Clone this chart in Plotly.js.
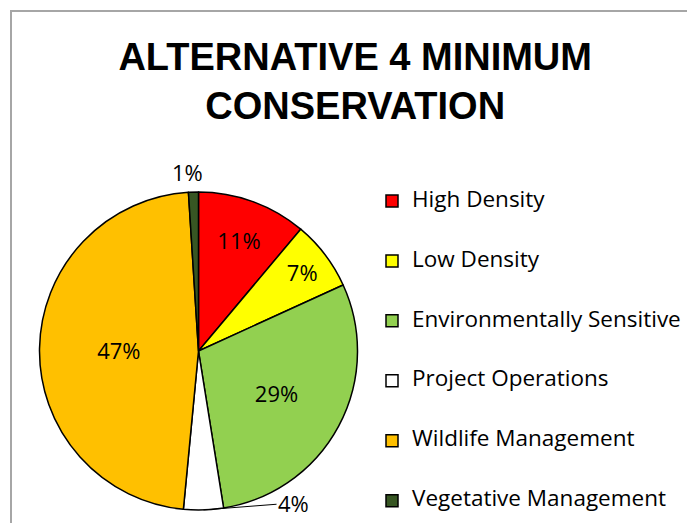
<!DOCTYPE html>
<html>
<head>
<meta charset="utf-8">
<script src="https://cdn.plot.ly/plotly-3.0.1.min.js"></script>
<style>
  html, body { margin: 0; padding: 0; background: #ffffff; overflow: hidden; }
  #wrap { position: relative; width: 687px; height: 523px; overflow: hidden; }
  #chart { position: absolute; left: 0; top: 0; }
  #frame { position: absolute; left: 10px; top: 10px; right: -5px; bottom: -5px;
           border-top: 2px solid #a6a6a6; border-left: 2px solid #a6a6a6; pointer-events: none; }
</style>
</head>
<body>
<div id="wrap">
  <div id="chart"></div>
  <div id="frame"></div>
</div>
<script>
// ---- data ----
const categories = ["High Density", "Low Density", "Environmentally Sensitive",
                    "Project Operations", "Wildlife Management", "Vegetative Management"];
const shares = [11, 7, 29, 4, 47, 1];
const sliceColors = ["#FF0000", "#FFFF00", "#92D050", "#FFFFFF", "#FFC000", "#375623"];
const labelPlacement = ["inside", "inside", "inside", "none", "inside", "none"];
const chartTitle = "ALTERNATIVE 4 MINIMUM<br>CONSERVATION";

// legend labels: padded with blank lines so each entry is 60px tall
const legendLabels = categories.map(c => " <br><span style=\"font-size:22.5px\">" + c + "</span><br> ");

const W = 687, H = 523;
const cx = 198.5, cy = 351, r = 159;
const labelFont = { family: "Open Sans, sans-serif", size: 22, color: "#000000" };

const trace = {
  type: "pie",
  labels: legendLabels,
  values: shares,
  sort: false,
  direction: "clockwise",
  rotation: 0,
  marker: { colors: sliceColors, line: { color: "#000000", width: 1.5 } },
  texttemplate: "%{percent:.0%}",
  textposition: labelPlacement,
  insidetextorientation: "horizontal",
  textfont: labelFont,
  hoverinfo: "none",
  domain: { x: [(cx - r) / W, (cx + r) / W], y: [(H - cy - r) / H, (H - cy + r) / H] }
};

// outside labels for the thin slices, placed at the middle of each slice's arc
const total = shares.reduce((a, b) => a + b, 0);
function arcPoint(i) {
  let before = 0;
  for (let k = 0; k < i; k++) before += shares[k];
  const mid = (before + shares[i] / 2) / total * 2 * Math.PI;
  return { x: (cx + r * Math.sin(mid)) / W, y: 1 - (cy - r * Math.cos(mid)) / H };
}
function pctText(i) { return Math.round(shares[i] / total * 100) + "%"; }

const pVeg = arcPoint(5), pProj = arcPoint(3);
const annotations = [
  { xref: "paper", yref: "paper", x: pVeg.x, y: pVeg.y, text: pctText(5),
    showarrow: false, xanchor: "center", yanchor: "bottom", xshift: -6, yshift: 3, font: labelFont },
  { xref: "paper", yref: "paper", x: pProj.x, y: pProj.y, text: pctText(3),
    showarrow: true, arrowhead: 0, arrowwidth: 1, arrowcolor: "#000000",
    ax: 90, ay: -7, font: labelFont }
];

const layout = {
  width: W, height: H,
  margin: { l: 0, r: 0, t: 0, b: 0, autoexpand: false },
  paper_bgcolor: "#ffffff",
  title: {
    text: chartTitle,
    font: { family: "Liberation Sans Narrow, Arial Narrow, sans-serif", size: 38, color: "#000000", weight: 700 },
    x: 0.517, xanchor: "center",
    y: 1 - 70 / H, yanchor: "top"
  },
  annotations: annotations,
  showlegend: true,
  legend: {
    x: 372 / W, xanchor: "left",
    y: 1 - 166 / H, yanchor: "top",
    font: { family: "Open Sans, sans-serif", size: 14.6, color: "#000000" },
    bgcolor: "rgba(0,0,0,0)",
    traceorder: "normal",
    valign: "middle"
  }
};

Plotly.newPlot("chart", [trace], layout, { displayModeBar: false, staticPlot: true });
</script>
</body>
</html>
